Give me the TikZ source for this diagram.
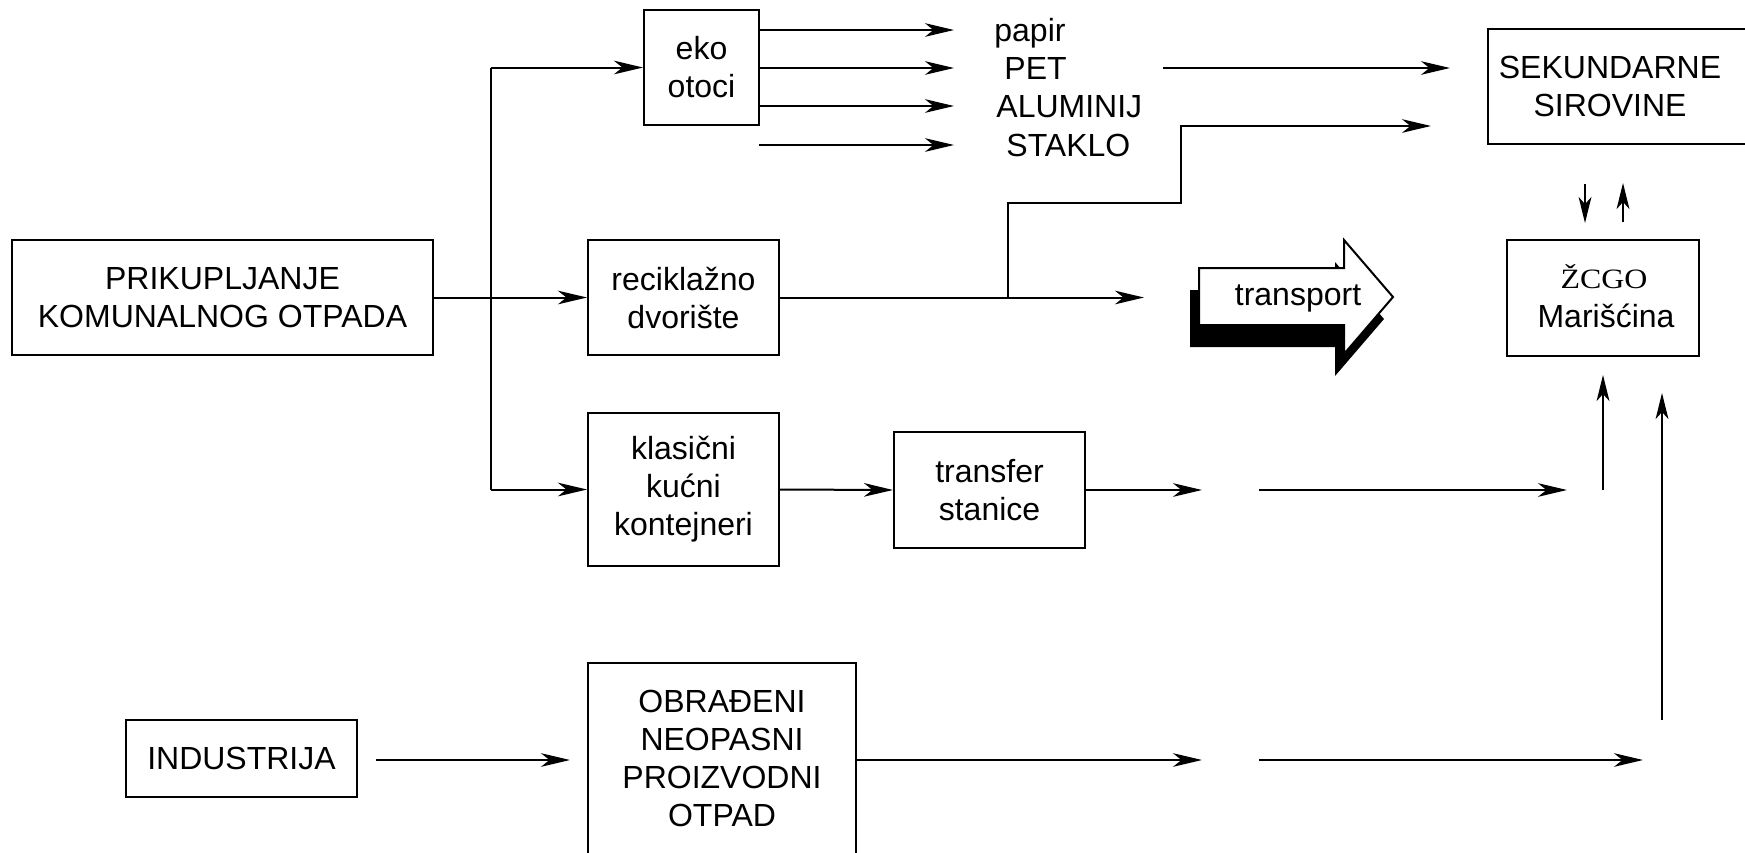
\documentclass[tikz,border=0pt]{standalone}
\usepackage{fontspec}
\setmainfont{Liberation Sans}
\newfontfamily\zcgofont{Liberation Serif}
\usetikzlibrary{arrows.meta}
\begin{document}
\begin{tikzpicture}[x=0.5pt,y=-0.5pt,
  every node/.style={font=\fontsize{16}{19}\selectfont, inner sep=0pt, align=center},
  box/.style={draw, line width=1pt},
  ln/.style={line width=1pt},
  conn/.style={line width=1pt, -{Stealth[length=14.5pt,width=6.8pt,inset=4.2pt]}},
  smallconn/.style={line width=1pt, -{Stealth[length=13pt,width=6.4pt,inset=3.5pt]}}
]
\useasboundingbox (0,0) rectangle (1745,852);

% boxes
\node[box, minimum width=210.5pt, minimum height=57.5pt] (prik) at (222.5,297.5) {PRIKUPLJANJE\\KOMUNALNOG OTPADA};
\node[box, minimum width=57.5pt, minimum height=57.5pt] (eko) at (701.5,67.5) {eko\\otoci};
\node[box, minimum width=95.5pt, minimum height=57.5pt] (recik) at (683.5,297.5) {reciklažno\\dvorište};
\node[box, minimum width=95.5pt, minimum height=76.5pt] (klas) at (683.5,489.5) {klasični\\kućni\\kontejneri};
\node[box, minimum width=95.5pt, minimum height=58pt] (trans) at (989.5,490) {transfer\\stanice};
\node[box, minimum width=131pt, minimum height=57.5pt] (sek) at (1619,86.5) {};
\node (sektext) at (1610,86.5) {SEKUNDARNE\\SIROVINE};
\node[box, minimum width=96pt, minimum height=58pt] (zcgo) at (1603,298) {};
\node[anchor=base] (zcgotext) at (1604,288) {\scalebox{1.14}[1]{\zcgofont\fontsize{14}{16}\selectfont ŽCGO}};
\node[anchor=base] (mar) at (1606,327.5) {Marišćina};
\node[box, minimum width=115.5pt, minimum height=38.5pt] (ind) at (241.5,758.5) {INDUSTRIJA};
\node[box, minimum width=134pt, minimum height=95.5pt] (obr) at (722,758.5) {OBRAĐENI\\NEOPASNI\\PROIZVODNI\\OTPAD};

% material labels
\node[anchor=base west] (papir) at (994,41.5) {papir};
\node[anchor=base west] (pet) at (1004,79.5) {PET};
\node[anchor=base west] (alu) at (996,117.5) {ALUMINIJ};
\node[anchor=base west] (staklo) at (1006,156.5) {STAKLO};

% coordinates
\coordinate (jt) at (491,67.5);
\coordinate (jb) at (491,489.5);
\coordinate (p1) at (954,30);
\coordinate (p2) at (954,68);
\coordinate (p3) at (954,106);
\coordinate (p4) at (954,145);
\coordinate (s0) at (759,145);
\coordinate (pet1) at (1163,68);
\coordinate (pet2) at (1450,68);
\coordinate (r1) at (1144,297.5);
\coordinate (rb) at (1008,297.5);
\coordinate (rk) at (1181,203);
\coordinate (r2) at (1431,126);
\coordinate (t1) at (1202,490);
\coordinate (t2) at (1259,490);
\coordinate (t3) at (1567,490);
\coordinate (u1) at (1603,490);
\coordinate (u1e) at (1603,375);
\coordinate (u2) at (1662,720);
\coordinate (u2e) at (1662,393);
\coordinate (i1) at (376,760);
\coordinate (i2) at (570,760);
\coordinate (o1) at (1202,760);
\coordinate (o2) at (1259,760);
\coordinate (o3) at (1643,760);
\coordinate (d1) at (1585,184);
\coordinate (d2) at (1585,223);
\coordinate (e1) at (1623,222);
\coordinate (e2) at (1623,183);

% connectors
\draw[conn] (prik.east) -- (recik.west);
\draw[ln] (jt) -- (jb);
\draw[conn] (jt) -- (eko.west);
\draw[conn] (jb) -- (klas.west);
\draw[conn] (eko.east |- p1) -- (p1);
\draw[conn] (eko.east |- p2) -- (p2);
\draw[conn] (eko.east |- p3) -- (p3);
\draw[conn] (s0) -- (p4);
\draw[conn] (pet1) -- (pet2);
\draw[conn] (recik.east) -- (r1);
\draw[conn] (rb) |- (rk) |- (r2);
\draw[conn] (klas.east) -- (trans.west);
\draw[conn] (trans.east) -- (t1);
\draw[conn] (t2) -- (t3);
\draw[smallconn] (u1) -- (u1e);
\draw[smallconn] (u2) -- (u2e);
\draw[conn] (i1) -- (i2);
\draw[conn] (obr.east |- o1) -- (o1);
\draw[conn] (o2) -- (o3);
\draw[smallconn] (d1) -- (d2);
\draw[smallconn] (e1) -- (e2);

% transport block arrow with shadow
\fill[black, shift={(-9,22)}] (1199,268) -- (1344,268) -- (1344,240) -- (1393,297) -- (1344,354) -- (1344,325) -- (1199,325) -- cycle;
\draw[fill=white, line width=1pt, line join=miter] (1199,268) -- (1344,268) -- (1344,240) -- (1393,297) -- (1344,354) -- (1344,325) -- (1199,325) -- cycle;
\node (transport) at (1298,298) {transport};
\end{tikzpicture}
\end{document}
